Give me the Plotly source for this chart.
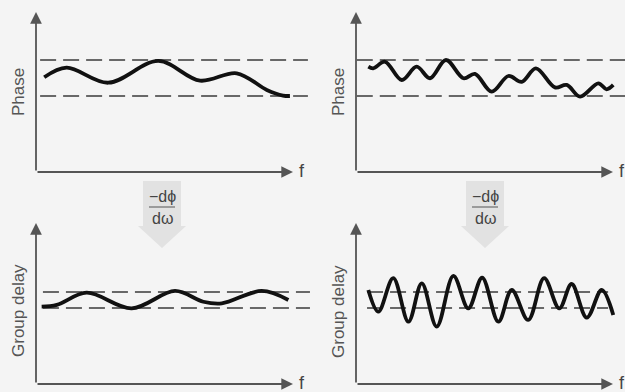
import plotly.graph_objects as go

W, H = 625, 392
BG = "#f4f4f4"

# ---------------- data (frequency 0-100, response 0-100) ----------------
phase_smooth_f = [3.2, 11.9, 28.1, 47.6, 63.8, 78.1, 89.8, 96.1, 98.8]
phase_smooth_v = [59.2, 65.2, 55.8, 69.4, 57.1, 61.7, 51.3, 47.8, 47.5]

phase_ripple_f = [4.8, 6.7, 11.3, 17.8, 23.6, 28.8, 35.0, 41.8, 46.3, 52.8,
                  59.3, 64.5, 70.0, 77.4, 82.0, 87.2, 94.3, 97.5, 100.1]
phase_ripple_v = [65.8, 64.8, 68.9, 57.5, 65.8, 58.6, 70.0, 58.6, 61.3, 50.2,
                  60.0, 56.4, 64.8, 52.9, 54.4, 47.1, 55.4, 51.7, 54.4]

gd_smooth_f = [2.2, 8.1, 19.7, 37.2, 54.1, 65.1, 72.3, 87.8, 98.2]
gd_smooth_v = [48.0, 49.1, 56.7, 47.0, 57.8, 51.1, 50.1, 57.8, 52.2]

gd_ripple_f = [4.8, 8.7, 14.5, 20.4, 25.6, 31.4, 37.9, 43.7, 49.1, 55.4,
               60.6, 67.0, 73.2, 79.1, 83.9, 89.8, 95.6, 100.1]
gd_ripple_v = [58.4, 44.9, 65.7, 38.7, 62.5, 35.6, 67.1, 47.0, 66.0, 38.7,
               58.4, 39.8, 65.7, 47.0, 62.1, 41.2, 58.4, 42.9]

phase_limits = [70.0, 47.5]
gd_limits = [57.1, 47.2]
limit_spans = [[1.6, 105.8], [0.3, 104.7], [2.7, 106.6], [4.3, 98.1]]

y_titles = ["Phase", "Phase", "Group delay", "Group delay"]
x_title = "f"

# ---------------- layout geometry (pixels) ----------------
panels = [
    dict(ox=36, tx=293, oy=172, ty=12),
    dict(ox=356, tx=613, oy=172, ty=12),
    dict(ox=36, tx=293, oy=384, ty=223),
    dict(ox=356, tx=613, oy=384, ty=223),
]

def px(x):
    return x / W

def py(y):
    return 1 - y / H

fig = go.Figure()
layout_axes = {}
curves = [
    (phase_smooth_f, phase_smooth_v, phase_limits),
    (phase_ripple_f, phase_ripple_v, phase_limits),
    (gd_smooth_f, gd_smooth_v, gd_limits),
    (gd_ripple_f, gd_ripple_v, gd_limits),
]
annotations = []
for i, (p, (cf, cv, lims)) in enumerate(zip(panels, curves)):
    n = "" if i == 0 else str(i + 1)
    xa, ya = "x" + n, "y" + n
    sx = (p["tx"] - p["ox"]) / 100.0
    sy = (p["oy"] - p["ty"]) / 100.0
    layout_axes["xaxis" + n] = dict(domain=[0, 1], range=[-p["ox"] / sx, (W - p["ox"]) / sx],
                                    visible=False, anchor=ya, fixedrange=True)
    layout_axes["yaxis" + n] = dict(domain=[0, 1], range=[(p["oy"] - H) / sy, p["oy"] / sy],
                                    visible=False, anchor=xa, fixedrange=True)
    # dashed limit lines
    for lv in lims:
        fig.add_trace(go.Scatter(x=limit_spans[i], y=[lv, lv], mode="lines",
                                 line=dict(color="#3a3a3a", width=1.4, dash="16px,7px"),
                                 xaxis=xa, yaxis=ya, hoverinfo="skip", showlegend=False))
    # response curve
    fig.add_trace(go.Scatter(x=cf, y=cv, mode="lines",
                             line=dict(color="#111111", width=3.8, shape="spline", smoothing=1.0),
                             xaxis=xa, yaxis=ya, hoverinfo="skip", showlegend=False))
    # axes with arrows
    annotations.append(dict(x=0, y=100, ax=0, ay=0, xref=xa, yref=ya, axref=xa, ayref=ya,
                            text="", showarrow=True, arrowhead=2, arrowsize=1.3,
                            arrowwidth=1.8, arrowcolor="#555555", standoff=0))
    annotations.append(dict(x=100, y=0, ax=0, ay=0, xref=xa, yref=ya, axref=xa, ayref=ya,
                            text="", showarrow=True, arrowhead=2, arrowsize=1.3,
                            arrowwidth=1.8, arrowcolor="#555555", standoff=0))
    # labels
    annotations.append(dict(x=px(p["tx"] + 9), y=py(p["oy"] - 1), xref="paper", yref="paper",
                            text=x_title, showarrow=False, xanchor="center", yanchor="middle",
                            font=dict(size=18, color="#444444", family="Liberation Sans, Arial")))
    annotations.append(dict(x=px(p["ox"] - 18), y=py(92 if i < 2 else 311),
                            xref="paper", yref="paper",
                            text=y_titles[i], showarrow=False, textangle=-90,
                            xanchor="center", yanchor="middle",
                            font=dict(size=17, color="#555555", family="Liberation Sans, Arial")))

# block arrows with -dphi/domega
shapes = []
for cx in [162, 485]:
    path = (f"M {px(cx-19)},{py(181)} L {px(cx+19)},{py(181)} L {px(cx+19)},{py(226)} "
            f"L {px(cx+24)},{py(226)} L {px(cx)},{py(248)} L {px(cx-24)},{py(226)} "
            f"L {px(cx-19)},{py(226)} Z")
    shapes.append(dict(type="path", path=path, xref="paper", yref="paper",
                       fillcolor="#e2e2e2", line=dict(width=0), layer="below"))
    shapes.append(dict(type="line", x0=px(cx - 13), x1=px(cx + 13), y0=py(207), y1=py(207),
                       xref="paper", yref="paper", line=dict(color="#555555", width=1)))
    annotations.append(dict(x=px(cx), y=py(196), xref="paper", yref="paper", text="\u2212d\u03d5",
                            showarrow=False, xanchor="center", yanchor="middle",
                            font=dict(size=16, color="#444444", family="Liberation Sans, Arial")))
    annotations.append(dict(x=px(cx), y=py(218), xref="paper", yref="paper", text="d\u03c9",
                            showarrow=False, xanchor="center", yanchor="middle",
                            font=dict(size=16, color="#444444", family="Liberation Sans, Arial")))

fig.update_layout(width=W, height=H, margin=dict(l=0, r=0, t=0, b=0),
                  paper_bgcolor=BG, plot_bgcolor="rgba(0,0,0,0)",
                  showlegend=False, annotations=annotations, shapes=shapes, **layout_axes)

fig.write_html("out.html", config={"displayModeBar": False},
               post_script="document.body.style.margin='0';document.body.style.padding='0';"
                           "document.body.style.background='#f4f4f4';document.body.style.overflow='hidden';")
